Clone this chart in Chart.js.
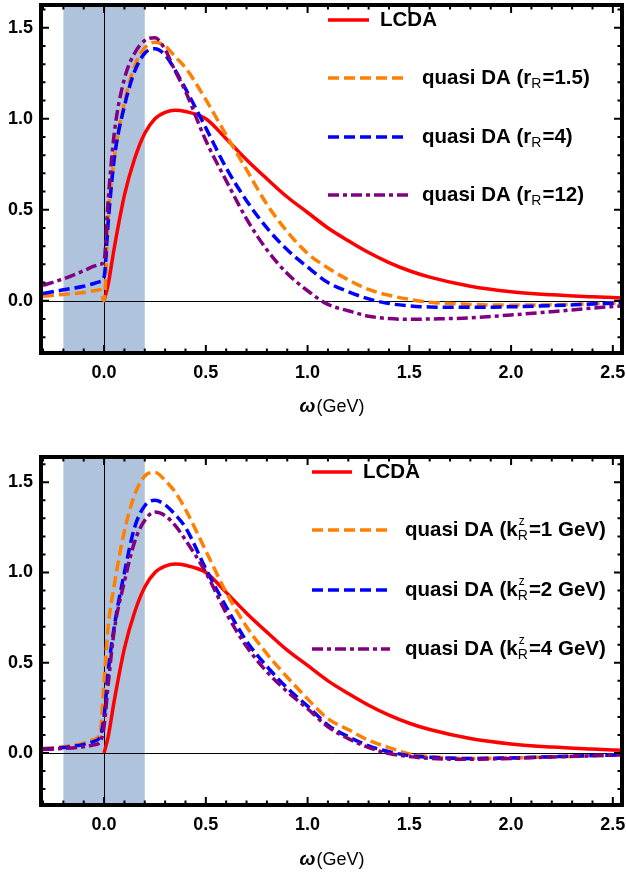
<!DOCTYPE html>
<html>
<head>
<meta charset="utf-8">
<title>LCDA vs quasi DA</title>
<script src="https://cdn.jsdelivr.net/npm/chart.js@4.4.1/dist/chart.umd.min.js"></script>
<style>
  html, body { margin: 0; padding: 0; background: #fff; }
  canvas { display: block; }
</style>
</head>
<body>
<canvas id="topChart" width="626" height="437"></canvas>
<canvas id="bottomChart" width="626" height="438"></canvas>
<script>
// omega grid (GeV) shared by every curve
var omega = [-0.3, -0.2, -0.1, -0.05, -0.02, 0, 0.02, 0.05, 0.1, 0.15, 0.2, 0.25, 0.3, 0.35, 0.4,
             0.5, 0.6, 0.7, 0.8, 0.9, 1.0, 1.1, 1.2, 1.3, 1.4, 1.5, 1.6, 1.8, 2.0, 2.2, 2.4, 2.55];

// LCDA (same in both panels), zero/undrawn below omega = 0
var lcda = [null, null, null, null, null, 0, 0.09, 0.29, 0.58, 0.78, 0.92, 1.0, 1.035, 1.047, 1.04,
            1.0, 0.89, 0.775, 0.67, 0.57, 0.485, 0.40, 0.33, 0.265, 0.21, 0.165, 0.13, 0.08, 0.05, 0.033, 0.022, 0.015];

// top panel: quasi DA for r_R = 1.5, 4, 12
var quasiR15 = [0.025, 0.035, 0.045, 0.055, 0.06, 0.0, 0.45, 0.78, 1.09, 1.29, 1.39, 1.42, 1.40, 1.34, 1.28,
                1.105, 0.91, 0.72, 0.53, 0.38, 0.26, 0.18, 0.115, 0.062, 0.03, 0.008, -0.008, -0.02, -0.024, -0.022, -0.016, -0.012];
var quasiR4 = [0.04, 0.06, 0.08, 0.095, 0.105, 0.13, 0.43, 0.78, 1.07, 1.26, 1.36, 1.385, 1.35, 1.265, 1.165,
               0.95, 0.73, 0.55, 0.40, 0.28, 0.185, 0.10, 0.05, 0.01, -0.015, -0.028, -0.034, -0.036, -0.033, -0.027, -0.018, -0.012];
var quasiR12 = [0.085, 0.12, 0.165, 0.19, 0.2, 0.22, 0.55, 0.92, 1.22, 1.36, 1.43, 1.445, 1.38, 1.26, 1.15,
                0.88, 0.66, 0.45, 0.28, 0.15, 0.055, -0.02, -0.055, -0.085, -0.098, -0.102, -0.1, -0.094, -0.078, -0.06, -0.04, -0.028];

// bottom panel: quasi DA for k_R^z = 1, 2, 4 GeV
var quasiK1 = [0.025, 0.035, 0.055, 0.075, 0.11, 0.4, 0.7, 0.93, 1.23, 1.43, 1.535, 1.555, 1.51, 1.445, 1.35,
               1.12, 0.89, 0.70, 0.55, 0.42, 0.30, 0.19, 0.13, 0.07, 0.03, -0.005, -0.02, -0.03, -0.027, -0.022, -0.015, -0.01];
var quasiK2 = [0.022, 0.03, 0.048, 0.065, 0.09, 0.2, 0.45, 0.7, 1.0, 1.25, 1.37, 1.4, 1.375, 1.32, 1.25,
               1.02, 0.81, 0.62, 0.48, 0.36, 0.26, 0.155, 0.09, 0.04, 0.007, -0.014, -0.024, -0.03, -0.027, -0.02, -0.014, -0.01];
var quasiK4 = [0.02, 0.025, 0.035, 0.045, 0.06, 0.15, 0.38, 0.68, 0.95, 1.17, 1.29, 1.335, 1.315, 1.26, 1.18,
               1.0, 0.775, 0.59, 0.45, 0.34, 0.245, 0.145, 0.08, 0.03, -0.003, -0.02, -0.03, -0.035, -0.03, -0.022, -0.015, -0.01];

var xTicks = [0, 0.5, 1, 1.5, 2, 2.5];
var yTicks = [0, 0.5, 1, 1.5];
var shadedBand = [-0.2, 0.2];

var topLabels = [
    { text: 'LCDA' },
    { text: 'quasi DA (r', sub: 'R', tail: '=1.5)' },
    { text: 'quasi DA (r', sub: 'R', tail: '=4)' },
    { text: 'quasi DA (r', sub: 'R', tail: '=12)' }
];
var bottomLabels = [
    { text: 'LCDA' },
    { text: 'quasi DA (k', sup: 'z', sub: 'R', tail: '=1 GeV)' },
    { text: 'quasi DA (k', sup: 'z', sub: 'R', tail: '=2 GeV)' },
    { text: 'quasi DA (k', sup: 'z', sub: 'R', tail: '=4 GeV)' }
];

var FONT = "'Liberation Sans', Arial, sans-serif";
var colors = ['rgb(255,0,0)', 'rgb(255,128,0)', 'rgb(0,0,255)', 'rgb(128,0,128)'];
var dashes = [[], [11, 5], [11, 5], [11, 4, 4, 4]];

function points(values) {
    return omega.map(function (w, i) { return { x: w, y: values[i] }; });
}

function lineSet(values, i) {
    return {
        data: points(values),
        borderColor: colors[i],
        borderWidth: 3.5,
        borderDash: dashes[i],
        pointRadius: 0,
        fill: false,
        cubicInterpolationMode: 'monotone',
        order: 4 - i
    };
}

// keep tick labels from pushing the plot area inwards
function noPadding(s) {
    s.paddingTop = 0; s.paddingBottom = 0; s.paddingLeft = 0; s.paddingRight = 0;
}

// frame, inward ticks, shading, zero lines, axis title and legend
var framePlugin = {
    id: 'frame',
    beforeDatasetsDraw: function (chart) {
        var ctx = chart.ctx, a = chart.chartArea;
        var xs = chart.scales.x, ys = chart.scales.y;
        ctx.save();
        var b0 = xs.getPixelForValue(shadedBand[0]), b1 = xs.getPixelForValue(shadedBand[1]);
        ctx.fillStyle = 'rgb(176,195,221)';
        ctx.fillRect(b0, a.top, b1 - b0, a.bottom - a.top);
        ctx.strokeStyle = '#000';
        ctx.lineWidth = 1;
        var zx = Math.round(xs.getPixelForValue(0)) + 0.5;
        var zy = Math.round(ys.getPixelForValue(0)) + 0.5;
        ctx.beginPath();
        ctx.moveTo(zx, a.top); ctx.lineTo(zx, a.bottom);
        ctx.moveTo(a.left, zy); ctx.lineTo(a.right, zy);
        ctx.stroke();
        ctx.restore();
    },
    afterDraw: function (chart, args, opts) {
        var ctx = chart.ctx, a = chart.chartArea;
        var xs = chart.scales.x, ys = chart.scales.y;
        ctx.save();
        ctx.strokeStyle = '#000';

        // ticks on all four sides
        ctx.lineWidth = 2;
        ctx.beginPath();
        var i, v, p, len;
        for (i = -3; i <= 25; i++) {
            v = i / 10;
            len = (i % 5 === 0) ? 8 : 4.5;
            p = xs.getPixelForValue(v);
            ctx.moveTo(p, a.bottom); ctx.lineTo(p, a.bottom - len);
            ctx.moveTo(p, a.top); ctx.lineTo(p, a.top + len);
        }
        for (i = -2; i <= 16; i++) {
            v = i / 10;
            len = (i % 5 === 0) ? 8 : 4.5;
            p = ys.getPixelForValue(v);
            if (p < a.top || p > a.bottom) continue;
            ctx.moveTo(a.left, p); ctx.lineTo(a.left + len, p);
            ctx.moveTo(a.right, p); ctx.lineTo(a.right - len, p);
        }
        ctx.stroke();

        // thick frame
        ctx.lineWidth = 4;
        ctx.strokeRect(a.left, a.top, a.right - a.left, a.bottom - a.top);

        // axis title: italic omega + (GeV)
        ctx.fillStyle = '#000';
        ctx.textBaseline = 'middle';
        var f1 = 'italic bold 19px ' + FONT, f2 = '18px ' + FONT;
        ctx.font = f1; var w1 = ctx.measureText('\u03c9').width;
        ctx.font = f2; var w2 = ctx.measureText('(GeV)').width;
        var cx = (a.left + a.right) / 2 - (w1 + w2) / 2, ty = a.bottom + opts.titleGap;
        ctx.font = f1; ctx.textAlign = 'left'; ctx.fillText('\u03c9', cx, ty);
        ctx.font = f2; ctx.fillText('(GeV)', cx + w1 + 1, ty);

        // legend
        opts.labels.forEach(function (lab, k) {
            var y = opts.rows[k];
            var x1 = k === 0 ? opts.shortEnd : opts.longEnd;
            var tx = k === 0 ? opts.shortText : opts.longText;
            ctx.beginPath();
            ctx.setLineDash(dashes[k]);
            ctx.lineWidth = 3.5;
            ctx.strokeStyle = colors[k];
            ctx.moveTo(opts.lineStart, y); ctx.lineTo(x1, y);
            ctx.stroke();
            ctx.setLineDash([]);

            ctx.fillStyle = '#000';
            ctx.font = 'bold 20.5px ' + FONT;
            ctx.fillText(lab.text, tx, y);
            var x = tx + ctx.measureText(lab.text).width;
            if (lab.sub) {
                ctx.font = '14px ' + FONT;
                var ws = ctx.measureText(lab.sub).width, wp = 0;
                ctx.fillText(lab.sub, x, y + 6);
                if (lab.sup) {
                    ctx.font = '12px ' + FONT;
                    wp = ctx.measureText(lab.sup).width;
                    ctx.fillText(lab.sup, x + 1, y - 8);
                }
                x += Math.max(ws, wp) + 1;
                ctx.font = 'bold 20.5px ' + FONT;
                ctx.fillText(lab.tail, x, y);
            }
        });
        ctx.restore();
    }
};

function makeOptions(yMin, yMax, padTop, xHeight, legendOpts) {
    var tickFont = { family: FONT, size: 18, weight: 'bold' };
    return {
        responsive: false,
        animation: false,
        devicePixelRatio: 1,
        layout: { padding: { top: padTop, right: 4, left: 0, bottom: 0 } },
        plugins: {
            legend: { display: false },
            tooltip: { enabled: false },
            frame: legendOpts
        },
        scales: {
            x: {
                type: 'linear', min: -0.31, max: 2.545,
                grid: { display: false, drawTicks: false },
                border: { display: false },
                afterBuildTicks: function (s) { s.ticks = xTicks.map(function (v) { return { value: v }; }); },
                afterFit: function (s) { s.height = xHeight; noPadding(s); },
                ticks: {
                    color: '#000', font: tickFont, padding: 9, maxRotation: 0, autoSkip: false,
                    callback: function (v) { return Number(v).toFixed(1); }
                }
            },
            y: {
                type: 'linear', min: yMin, max: yMax,
                grid: { display: false, drawTicks: false },
                border: { display: false },
                afterBuildTicks: function (s) { s.ticks = yTicks.map(function (v) { return { value: v }; }); },
                afterFit: function (s) { s.width = 41; noPadding(s); },
                ticks: {
                    color: '#000', font: tickFont, padding: 8, autoSkip: false,
                    callback: function (v) { return Number(v).toFixed(1); }
                }
            }
        }
    };
}

new Chart(document.getElementById('topChart').getContext('2d'), {
    type: 'line',
    data: {
        datasets: [lineSet(lcda, 0), lineSet(quasiR15, 1), lineSet(quasiR4, 2), lineSet(quasiR12, 3)]
    },
    options: makeOptions(-0.287, 1.625, 5, 84, {
        labels: topLabels, rows: [20, 78, 137, 195],
        lineStart: 328, shortEnd: 369, longEnd: 408, shortText: 380, longText: 422, titleGap: 54
    }),
    plugins: [framePlugin]
});

new Chart(document.getElementById('bottomChart').getContext('2d'), {
    type: 'line',
    data: {
        datasets: [lineSet(lcda, 0), lineSet(quasiK1, 1), lineSet(quasiK2, 2), lineSet(quasiK4, 3)]
    },
    options: makeOptions(-0.288, 1.64, 20, 70, {
        labels: bottomLabels, rows: [35, 93, 153, 212],
        lineStart: 312, shortEnd: 352, longEnd: 390, shortText: 363, longText: 405, titleGap: 55
    }),
    plugins: [framePlugin]
});
</script>
</body>
</html>
